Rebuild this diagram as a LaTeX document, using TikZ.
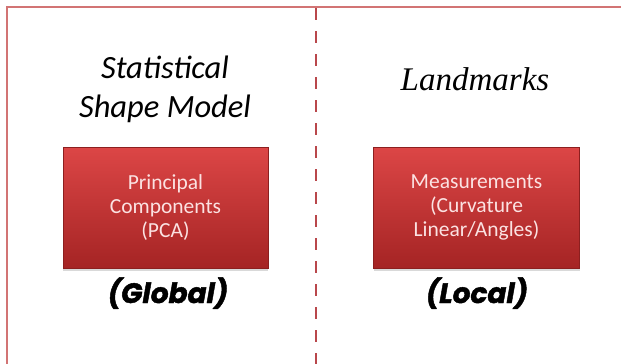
\documentclass[tikz,border=0pt]{standalone}
\usepackage{fontspec}
\newfontfamily\calfont{Carlito}
\newfontfamily\seriffont{Liberation Serif}
\newfontfamily\heavyfont{Poppins}[BoldItalicFeatures={FakeBold=1.6}]
\usetikzlibrary{shadows}
\definecolor{framered}{HTML}{D27474}
\definecolor{dashred}{HTML}{B9474B}
\definecolor{boxtop}{HTML}{DC4646}
\definecolor{boxbot}{HTML}{A52424}
\definecolor{boxtext}{HTML}{FBE2E2}

\begin{document}
\begin{tikzpicture}[
              x=1pt, y=-1pt,
              every node/.style={inner sep=0pt, align=center},
              redbox/.style={rectangle, minimum width=205pt, minimum height=121pt,
                top color=boxtop, bottom color=boxbot, draw=boxbot!85!black, line width=0.4pt,
                drop shadow={shadow xshift=0pt, shadow yshift=-2.5pt, opacity=0.3},
                text=boxtext, font=\calfont\fontsize{21.5}{24}\selectfont},
              headsans/.style={font=\calfont\itshape\fontsize{32.5}{39}\selectfont},
              headserif/.style={font=\seriffont\itshape\fontsize{33}{38}\selectfont},
              scopelbl/.style={font=\heavyfont\bfseries\itshape\fontsize{28}{32}\selectfont}
            ]
            \useasboundingbox (0,0) rectangle (621,364);
            \clip (0,0) rectangle (621,364);

            % frame and divider
            \draw[framered, line width=2pt] (7,380) -- (7,7) -- (640,7);
            \coordinate (divtop) at (316,8);
            \coordinate (divbot) at (316,364);
            \draw[dashred, line width=2pt, dash pattern=on 12pt off 11pt] (divtop) -- (divbot);

            % left half: global model
            \node[headsans] (sstitle) at (165,89) {Statistical\\Shape Model};
            \node[redbox] (pcabox) at (165.5,207.5) {Principal\\Components\\(PCA)};
            \node[scopelbl, anchor=base] (globallbl) at (168,303) {(Global)};

            % right half: landmarks
            \node[headserif, anchor=base] (lmtitle) at (475,90) {Landmarks};
            \node[redbox, minimum width=206pt] (measbox) at (476.5,207.5) {Measurements\\(Curvature\\Linear/Angles)};
            \node[scopelbl, anchor=base] (locallbl) at (477,303) {(Local)};

            \end{tikzpicture}
\end{document}
